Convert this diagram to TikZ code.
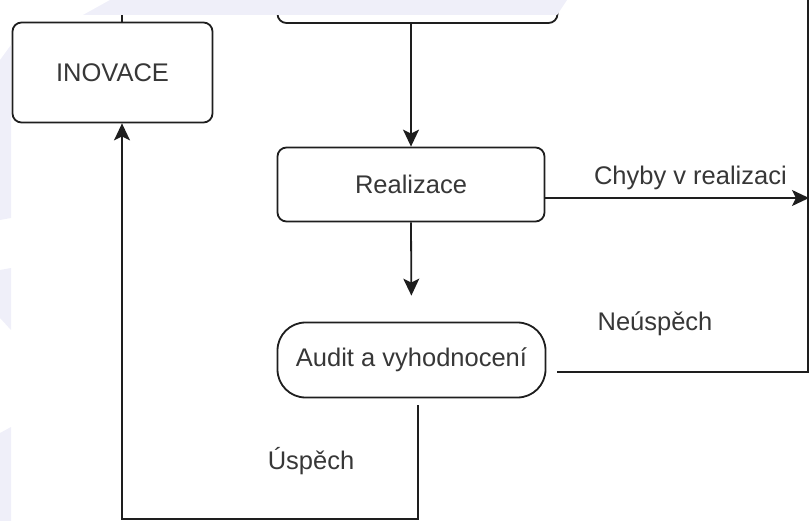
\documentclass[tikz,border=0pt]{standalone}
\usepackage{fontspec}
\setmainfont{Liberation Sans}
\usetikzlibrary{arrows.meta,positioning}
\definecolor{lav}{RGB}{239,239,249}
\definecolor{linegray}{RGB}{30,30,30}
\definecolor{textgray}{RGB}{55,55,55}

\begin{document}
\begin{tikzpicture}[x=1pt, y=-1pt,
    box/.style={draw=linegray, line width=1.8pt, rounded corners=9pt, inner sep=0pt,
        text=textgray, font=\fontsize{25.5}{30}\selectfont},
    flow/.style={draw=linegray, line width=1.8pt},
    flowarrow/.style={flow, -{Stealth[length=17pt, width=16pt, inset=4pt]}},
    lbl/.style={text=textgray, font=\fontsize{25.5}{30}\selectfont}]
\clip (0,0) rectangle (811,521);
% boxes
\node[box, minimum width=200pt, minimum height=100pt] (inov) at (112.5,72.5) {INOVACE};
\node[box, minimum width=280pt, minimum height=60pt] (top_box) at (417.5,-7) {};
\node[box, minimum width=267pt, minimum height=74pt] (real) at (411,184.5) {Realizace};
\node[box, rounded corners=28pt, minimum width=268pt, minimum height=75pt] (audit) at (411.5,360) {Audit a vyhodnocení};
% free ends
\coordinate (c_inov) at (122,-10);
\coordinate (c_err) at (809,198);
\coordinate (c_fail) at (808,372);
\coordinate (c_up) at (808,-10);
\coordinate (c_loop) at (122,519);
% connectors
\draw[flow] ([xshift=9.5pt]inov.north) -- (c_inov);
\draw[flowarrow] (top_box.south -| real.north) -- (real.north);
\draw[flowarrow, shorten >=26pt] (real.south) -- (audit.north);
\draw[flowarrow] ([yshift=-13.5pt]real.east) -- (c_err)
    node [lbl, pos=0.55, above=4pt] {Chyby v realizaci};
\draw[flow] ([shift={(11pt,-12pt)}]audit.east) -- (c_fail) -- (c_up);
\node[lbl] (fail_lbl) at (655,324) {Neúspěch};
\draw[flowarrow] ([shift={(6.5pt,-7pt)}]audit.south) |- (c_loop) -- ([xshift=9.5pt]inov.south);
\node[lbl] (ok_lbl) at (311,461) {Úspěch};
% lavender background pieces
\fill[lav] (110,0) -- (567,0) -- (557,15) -- (83,15) -- cycle;
\fill[lav] (0,60) -- (11,45) -- (11,218) -- (0,220) -- cycle;
\fill[lav] (0,270) -- (11,268) -- (11,330) -- (0,318) -- cycle;
\fill[lav] (0,433) -- (11,427) -- (11,521) -- (0,521) -- cycle;
\end{tikzpicture}
\end{document}
